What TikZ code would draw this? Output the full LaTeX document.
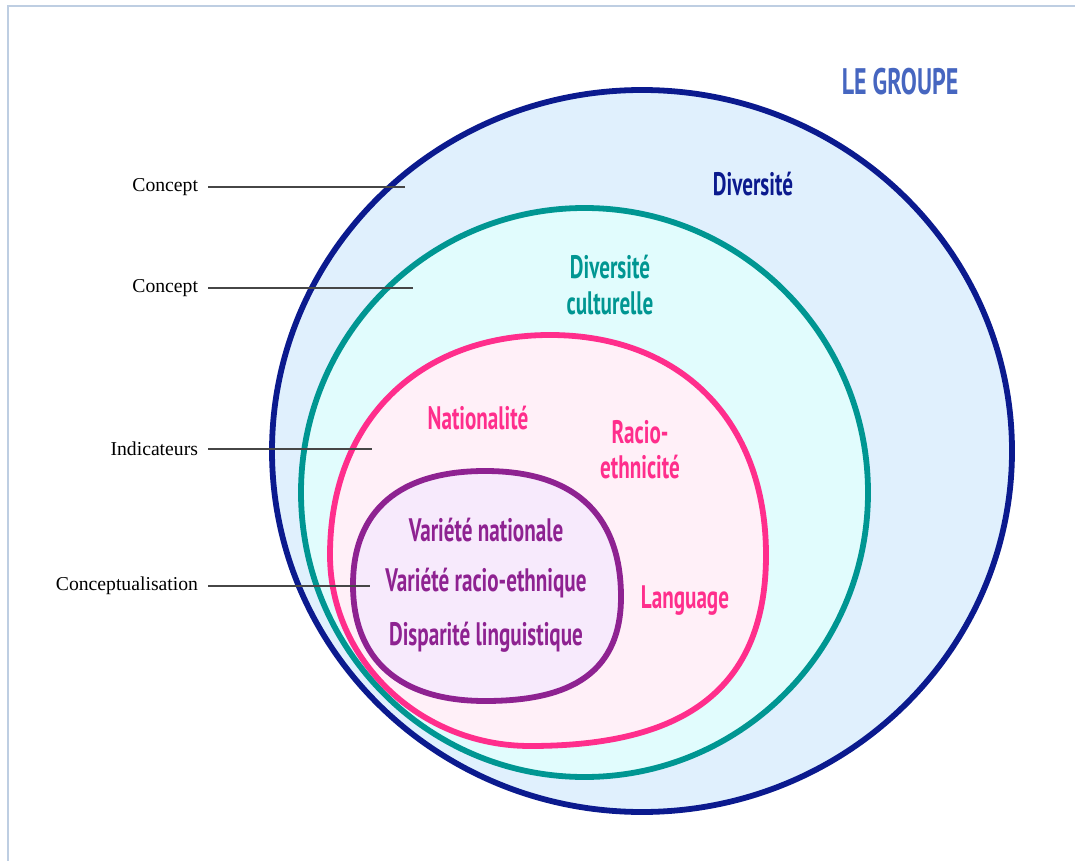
\documentclass[tikz,border=0pt]{standalone}
\usepackage{fontspec}
\setmainfont{Liberation Serif}
\newfontfamily\labfont[FakeStretch=0.65]{PT Sans}
\definecolor{navy}{RGB}{11,26,142}
\definecolor{navyfill}{RGB}{224,240,253}
\definecolor{teal}{RGB}{0,150,146}
\definecolor{tealfill}{RGB}{225,252,253}
\definecolor{pink}{RGB}{255,46,140}
\definecolor{pinkfill}{RGB}{255,240,248}
\definecolor{purp}{RGB}{142,34,145}
\definecolor{purpfill}{RGB}{247,234,252}
\definecolor{grpblue}{RGB}{70,102,192}
\definecolor{frame}{RGB}{190,206,226}
\tikzset{
  lab/.style={font=\labfont\bfseries\fontsize{18.5}{22}\selectfont, align=center},
  set/.style={line width=3.3pt},
  side/.style={font=\fontsize{11.2}{13}\selectfont, anchor=east, inner sep=5.5pt},
  pointer/.style={draw={rgb,255:red,70;green,70;blue,70}, line width=0.6pt}
}
\begin{document}
\begin{tikzpicture}[x=0.02cm, y=-0.02cm]
  \useasboundingbox (0,0) rectangle (1075,861);
  % cadre
  \draw[frame, line width=1.2pt] (8,861) -- (8,6) -- (1075,6);
  % ensembles
  \filldraw[set, navy, fill=navyfill] (642,451) ellipse [x radius=370, y radius=361];
  \filldraw[set, teal, fill=tealfill] (584.5,492.5) ellipse [x radius=283.5, y radius=284.5];
  \filldraw[set, pink, fill=pinkfill] (550,335) .. controls (680,335) and (766,420) .. (766,555)
    .. controls (766,700) and (670,746) .. (530,746)
    .. controls (420,746) and (330,660) .. (330,555)
    .. controls (330,420) and (420,335) .. cycle;
  \filldraw[set, purp, fill=purpfill] (485,471) .. controls (580,471) and (621,520) .. (621,597)
    .. controls (621,680) and (560,701) .. (485,701)
    .. controls (400,701) and (353,660) .. (353,585)
    .. controls (353,510) and (400,471) .. cycle;
  % textes
  \node[lab, text=grpblue, font=\labfont\bfseries\fontsize{21}{24}\selectfont] (grp) at (900,82) {LE GROUPE};
  \node[lab, text=navy] (divers) at (753,184) {Diversité};
  \node[lab, text=teal] (divcult) at (610,285) {Diversité\\[-2pt]culturelle};
  \node[lab, text=pink] (natio) at (478,418) {Nationalité};
  \node[lab, text=pink] (racio) at (640,450) {Racio-\\[-2pt]ethnicité};
  \node[lab, text=pink] (lang) at (685,601) {Language};
  \node[lab, text=purp] (varnat) at (486,530) {Variété nationale};
  \node[lab, text=purp] (varrac) at (486,583) {Variété racio-ethnique};
  \node[lab, text=purp] (displing) at (486,637) {Disparité linguistique};
  % renvois
  \node[side] (conc1) at (208,187) {Concept};
  \node[side] (conc2) at (208,288) {Concept};
  \node[side] (indic) at (208,449) {Indicateurs};
  \node[side] (concept4) at (208,586) {Conceptualisation};
  \coordinate (conc1e) at (405,187);
  \coordinate (conc2e) at (413,288);
  \coordinate (indice) at (372,449);
  \coordinate (concept4e) at (370,586);
  \path[pointer] (conc1) -- (conc1e);
  \path[pointer] (conc2) -- (conc2e);
  \path[pointer] (indic) -- (indice);
  \path[pointer] (concept4) -- (concept4e);
\end{tikzpicture}
\end{document}
